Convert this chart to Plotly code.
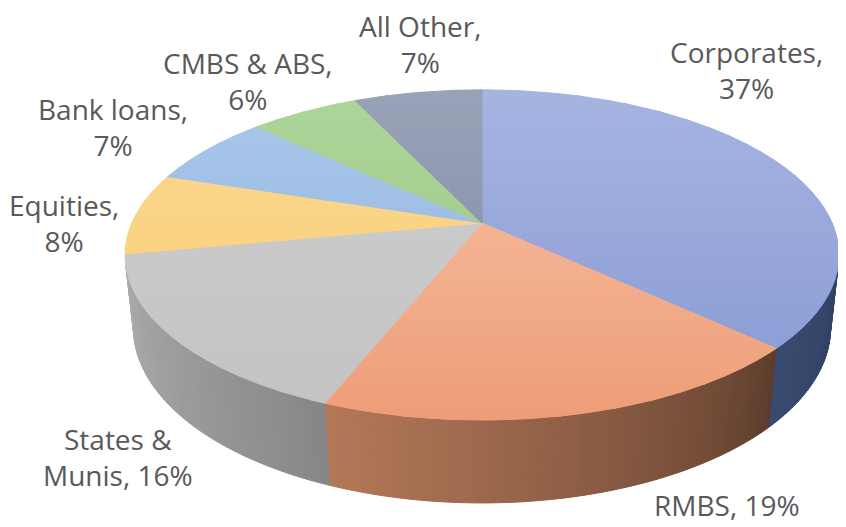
import numpy as np
import plotly.graph_objects as go

# ---------------- data ----------------
categories = ["Corporates", "RMBS", "States & Munis", "Equities", "Bank loans", "CMBS & ABS", "All Other"]
values = [37, 19, 16, 8, 7, 6, 7]
label_text = ["Corporates,<br>37%", "RMBS, 19%", "States &amp;<br>Munis, 16%", "Equities,<br>8%",
              "Bank loans,<br>7%", "CMBS &amp; ABS,<br>6%", "All Other,<br>7%"]

# ---------------- style ----------------
top_hi = ["#A6B4E1", "#F7C3A8", "#CFCFCF", "#FCDA95", "#A9C7EA", "#AED59A", "#9AA2B8"]
top_lo = ["#8799D4", "#EE9D77", "#C3C3C3", "#F7CA6E", "#90B2E0", "#96C47E", "#7D86A0"]
wall_left = ["#394A70", "#B47858", "#ABABAB", "#C9A65A", "#7F97B8", "#7FA069", "#5F6780"]
wall_right = ["#2F3E60", "#5A3B2B", "#858585", "#C9A65A", "#7F97B8", "#7FA069", "#5F6780"]
label_pos = [(746, 70), (727, 505), (118, 457), (64, 223), (113, 127), (248, 81), (420, 44)]

# page body has an 8px margin: shift the axis window so data units equal screen pixels
OFF = 8
CX, CY, F = 482.0, 223.0, 1613.0
ALPHA = np.radians(27)
L = 5.17 * np.cos(ALPHA)
T = 0.235
Y_TOP, Y_BOT = 88.0, 423.0


def project(theta_deg, h, r=1.0):
    th = np.radians(theta_deg)
    X = r * np.sin(th)
    Z = -r * np.cos(th)
    depth = L - (h * np.sin(ALPHA) + Z * np.cos(ALPHA))
    u = X / depth
    v = (h * np.cos(ALPHA) - Z * np.sin(ALPHA)) / depth
    return CX + F * u, CY - F * v


def hex2rgb(h):
    h = h.lstrip("#")
    return np.array([int(h[i:i + 2], 16) for i in (0, 2, 4)], dtype=float)


def mix(c1, c2, t):
    t = min(max(t, 0.0), 1.0)
    c = hex2rgb(c1) * (1 - t) + hex2rgb(c2) * t
    return "rgb(%d,%d,%d)" % tuple(np.round(c).astype(int))


def clip_half(poly, y0, keep_above):
    out = []
    n = len(poly)
    for i in range(n):
        p, q = poly[i], poly[(i + 1) % n]
        ip = (p[1] >= y0) if keep_above else (p[1] <= y0)
        iq = (q[1] >= y0) if keep_above else (q[1] <= y0)
        if ip:
            out.append(p)
        if ip != iq:
            t = (y0 - p[1]) / (q[1] - p[1])
            out.append((p[0] + t * (q[0] - p[0]), y0))
    return out


total = float(sum(values))
bounds = np.concatenate([[0], np.cumsum(values)]) / total * 360.0
theta_a = np.degrees(np.arccos(-1.0 / (L * np.cos(ALPHA))))
vis_lo, vis_hi = theta_a, 360.0 - theta_a

fig = go.Figure()


def add_poly(xs, ys, color):
    fig.add_trace(go.Scatter(x=list(xs) + [xs[0]], y=list(ys) + [ys[0]], mode="lines",
                             fill="toself", fillcolor=color,
                             line=dict(color=color, width=1),
                             hoverinfo="skip", showlegend=False))


# ---- side walls ----
for i in range(len(values)):
    a, b = max(bounds[i], vis_lo), min(bounds[i + 1], vis_hi)
    if b <= a:
        continue
    n = max(int(np.ceil((b - a) / 1.0)), 1)
    edges = np.linspace(a, b, n + 1)
    for k in range(n):
        t0, t1 = edges[k], edges[k + 1]
        ths = np.linspace(t0, t1, 4)
        tx, ty = project(ths, 0.0)
        bx, by = project(ths[::-1], -T)
        frac = ((t0 + t1) / 2 - a) / (b - a)
        col = mix(wall_right[i], wall_left[i], frac ** 0.8)
        add_poly(np.concatenate([tx, bx]), np.concatenate([ty, by]), col)

# ---- top faces with vertical gradient ----
band = 8.0
for i in range(len(values)):
    ths = np.linspace(bounds[i], bounds[i + 1], max(int((bounds[i + 1] - bounds[i]) * 2), 4))
    ax, ay = project(ths, 0.0)
    poly = [(CX, CY)] + list(zip(ax, ay))
    ymin = min(p[1] for p in poly)
    ymax = max(p[1] for p in poly)
    y0 = np.floor(ymin / band) * band
    while y0 < ymax:
        y1 = y0 + band
        seg = clip_half(clip_half(poly, y0, True), y1, False)
        if len(seg) >= 3:
            frac = ((y0 + y1) / 2 - Y_TOP) / (Y_BOT - Y_TOP)
            col = mix(top_hi[i], top_lo[i], frac)
            add_poly([p[0] for p in seg], [p[1] for p in seg], col)
        y0 = y1

# ---- labels ----
for i in range(len(values)):
    fig.add_annotation(x=label_pos[i][0], y=label_pos[i][1], xref="x", yref="y",
                       text=label_text[i], showarrow=False, xanchor="center", yanchor="middle",
                       align="center", font=dict(family="Open Sans", size=28, color="#595959"))

fig.update_layout(width=846, height=527, margin=dict(l=0, r=0, t=0, b=0),
                  paper_bgcolor="white", plot_bgcolor="white",
                  xaxis=dict(range=[OFF, 846 + OFF], visible=False, fixedrange=True),
                  yaxis=dict(range=[527 + OFF, OFF], visible=False, fixedrange=True))

fig.write_html("out.html")
